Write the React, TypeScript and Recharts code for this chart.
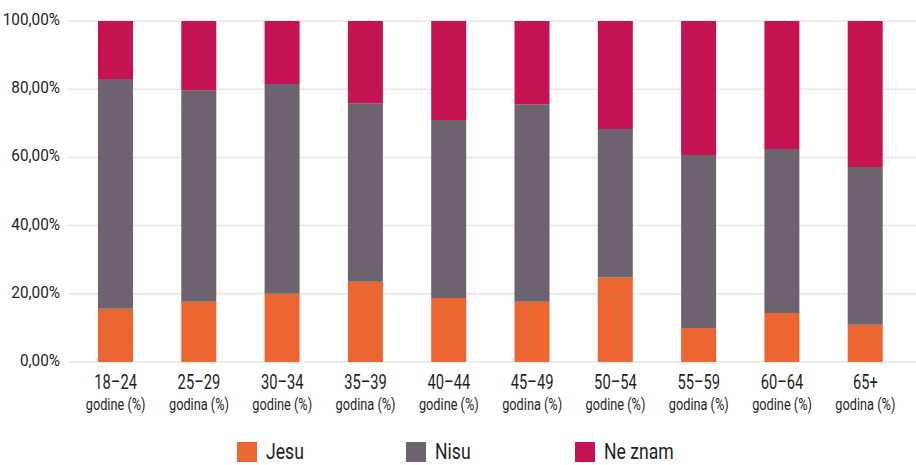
import React from "react";
import { BarChart, Bar, XAxis, YAxis, CartesianGrid, Legend } from "recharts";

const categories = ["18–24", "25–29", "30–34", "35–39", "40–44", "45–49", "50–54", "55–59", "60–64", "65+"];
const subLabels = ["godine (%)", "godina (%)", "godine (%)", "godina (%)", "godine (%)", "godina (%)", "godine (%)", "godina (%)", "godine (%)", "godina (%)"];
const jesu = [15.6, 17.7, 20.0, 23.5, 18.8, 17.7, 24.8, 10.0, 14.4, 10.9];
const nisu = [67.4, 62.0, 61.5, 52.4, 52.2, 57.9, 43.5, 50.7, 48.1, 46.3];
const neZnam = [17.0, 20.3, 18.5, 24.1, 29.0, 24.4, 31.7, 39.3, 37.5, 42.8];
const yTicks = [0, 20, 40, 60, 80, 100];

const seriesNames = ["Jesu", "Nisu", "Ne znam"];
const seriesKeys = ["jesu", "nisu", "neZnam"];
const seriesColors = ["#EB6631", "#6D636F", "#C51255"];

const data = categories.map((c, i) => ({
  cat: c,
  sub: subLabels[i],
  jesu: jesu[i],
  nisu: nisu[i],
  neZnam: neZnam[i],
}));

const FONT = "Roboto, 'Noto Sans', sans-serif";
const TEXT = "#1e1e1e";

const fmt = (v: number) => `${v.toFixed(2).replace(".", ",")}%`;

const XTick = (props: any) => {
  const { x, y, payload, index } = props;
  return (
    <g transform={`translate(${x},${y})`}>
      <g transform="scale(0.7,1)">
        <text x={0} y={0} dy={19} textAnchor="middle" fill={TEXT} fontSize={21} fontFamily={FONT}>
          {payload.value}
        </text>
      </g>
      <g transform="scale(0.75,1)">
        <text x={0} y={0} dy={40} textAnchor="middle" fill={TEXT} fontSize={17} fontFamily={FONT}>
          {subLabels[index]}
        </text>
      </g>
    </g>
  );
};

const YTick = (props: any) => {
  const { x, y, payload } = props;
  return (
    <g transform={`translate(${x},${y}) scale(0.93,1)`}>
      <text x={0} y={0} dy={4} textAnchor="end" fill={TEXT} fontSize={16.5} fontFamily={FONT}>
        {fmt(payload.value)}
      </text>
    </g>
  );
};

const LegendContent = () => (
  <div style={{ position: "relative", width: 916, height: 30 }}>
    {seriesNames.map((n, i) => (
      <div
        key={n}
        style={{
          position: "absolute",
          left: 237 + i * 169,
          top: 0,
          display: "flex",
          alignItems: "center",
          fontFamily: FONT,
          fontSize: 22,
          color: TEXT,
          whiteSpace: "nowrap",
        }}
      >
        <span style={{ display: "inline-block", width: 20, height: 20, background: seriesColors[i], marginRight: 9 }} />
        <span style={{ display: "inline-block", transform: "scaleX(0.8)", transformOrigin: "left center" }}>{n}</span>
      </div>
    ))}
  </div>
);

export default function App() {
  return (
    <div>
      <style>{`body{margin:0;}`}</style>
      <BarChart
        width={916}
        height={465}
        data={data}
        margin={{ top: 21, right: 0, bottom: 53, left: 0 }}
      >
        <CartesianGrid horizontal vertical={false} stroke="#e6e6e6" strokeWidth={1.5} />
        <XAxis
          dataKey="cat"
          axisLine={false}
          tickLine={false}
          height={50}
          padding={{ left: 6, right: 9 }}
          tick={<XTick />}
          interval={0}
        />
        <YAxis
          width={68}
          domain={[0, 100]}
          ticks={yTicks}
          axisLine={false}
          tickLine={false}
          tick={<YTick />}
        />
        <Legend
          layout="horizontal"
          verticalAlign="middle"
          align="center"
          content={<LegendContent />}
          wrapperStyle={{ top: 439, left: 0, width: 916 }}
        />
        {seriesKeys.map((k, i) => (
          <Bar
            key={k}
            dataKey={k}
            name={seriesNames[i]}
            stackId="a"
            fill={seriesColors[i]}
            barSize={35}
            isAnimationActive={false}
          />
        ))}
      </BarChart>
    </div>
  );
}
